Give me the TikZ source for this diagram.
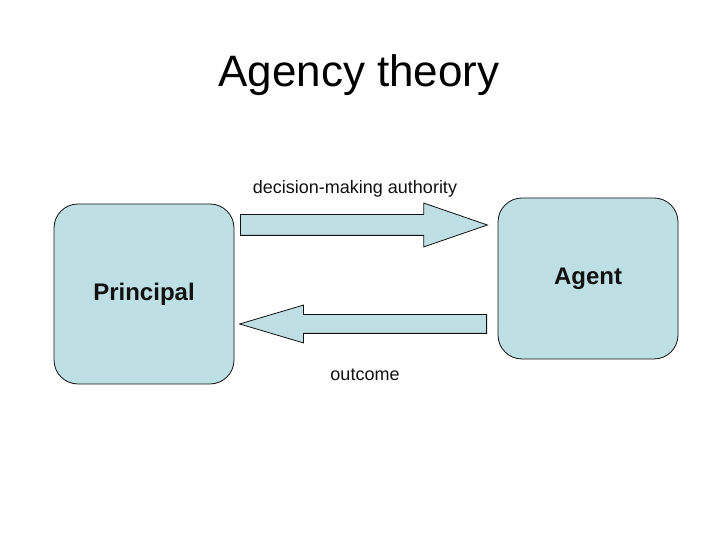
\documentclass[tikz,border=0pt]{standalone}
\usepackage{fontspec}
\setmainfont{Liberation Sans}
\usepackage{tikz}
\usetikzlibrary{positioning,shapes.arrows}
\definecolor{inkBlack}{HTML}{111111}
\definecolor{paleTeal}{HTML}{BEDFE3}
\tikzset{
  partyBox/.style={draw=inkBlack,line width=0.8pt,fill=paleTeal,rounded corners=24pt,
                   inner sep=0pt,font=\fontsize{24}{28}\selectfont\bfseries,text=inkBlack},
  flowArrow/.style={single arrow,draw=inkBlack,line width=0.8pt,fill=paleTeal,
                    inner xsep=0pt,minimum height=247pt,anchor=tail},
  flowLabel/.style={anchor=base,font=\fontsize{18}{21}\selectfont,text=inkBlack}
}

\begin{document}
\begin{tikzpicture}[x=1pt,y=1pt]
\useasboundingbox (0,0) rectangle (720,540);
\node[anchor=base,font=\fontsize{44}{50}\selectfont] (title) at (359,453) {Agency theory};

\node[partyBox,minimum width=180pt,minimum height=180pt] (principal) at (144,246) {Principal};
\node[partyBox,minimum width=180pt,minimum height=161pt] (agent) at (588,261.5) {Agent};

\node[flowArrow,inner ysep=10pt,single arrow head extend=11.5pt,
      single arrow tip angle=38] (authority) at (240,315) {};
\node[flowArrow,inner ysep=9pt,single arrow head extend=9.5pt,
      single arrow tip angle=33,shape border rotate=180] (outcome) at (487,216) {};

\node[flowLabel] (authorityText) at (355,346) {decision-making authority};
\node[flowLabel] (outcomeText) at (365,159) {outcome};
\end{tikzpicture}
\end{document}
